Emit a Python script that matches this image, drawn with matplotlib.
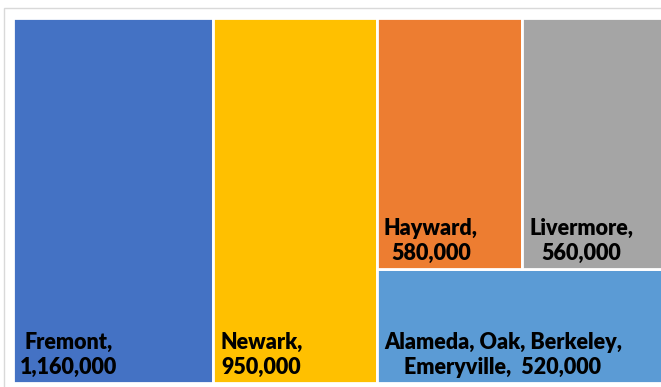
import matplotlib.pyplot as plt
from matplotlib.patches import Rectangle

cities = ["Fremont", "Newark", "Hayward", "Livermore",
          "Alameda, Oak, Berkeley,\nEmeryville"]
population = [1160000, 950000, 580000, 560000, 520000]
separators = ["\n", "\n", "\n", "\n", "  "]
colors = ["#4472C4", "#FFC000", "#ED7D31", "#A5A5A5", "#5B9BD5"]


def layout(values):
    total = sum(values)
    boxes = {}
    x0 = 0.0
    # the two biggest cities get full-height columns
    for i in (0, 1):
        w = values[i] / total
        boxes[i] = (x0, 0.0, w, 1.0)
        x0 += w
    # the rest share the last column: two side by side on top, one below
    w = 1.0 - x0
    h_low = values[4] / sum(values[2:])
    boxes[4] = (x0, 0.0, w, h_low)
    top = values[2] + values[3]
    x = x0
    for i in (2, 3):
        wi = w * values[i] / top
        boxes[i] = (x, h_low, wi, 1.0 - h_low)
        x += wi
    return boxes


fig = plt.figure(figsize=(6.61, 3.87), dpi=100)

# light frame around the chart area
fig.patches.append(Rectangle((3.5 / 661, -0.1), 1.2, 1.1 - 8.5 / 387,
                             transform=fig.transFigure, fill=False,
                             edgecolor="#D9D9D9", linewidth=1.0))

ax = fig.add_axes([13 / 661, 4 / 387, 650 / 661, 365 / 387])
ax.set_xlim(0, 1)
ax.set_ylim(0, 1)
ax.axis("off")

for i, (x, y, w, h) in layout(population).items():
    ax.add_patch(Rectangle((x, y), w, h, facecolor=colors[i],
                           edgecolor="white", linewidth=2.0))
    label = f"{cities[i]},{separators[i]}{population[i]:,}"
    ax.annotate(label, xy=(x, y), xytext=(7, 9), textcoords="offset pixels",
                ha="left", va="baseline", multialignment="center",
                fontsize=15.5, fontweight="heavy", family="Lato",
                linespacing=1.22, color="black")

fig.savefig("out.png", dpi=100)
